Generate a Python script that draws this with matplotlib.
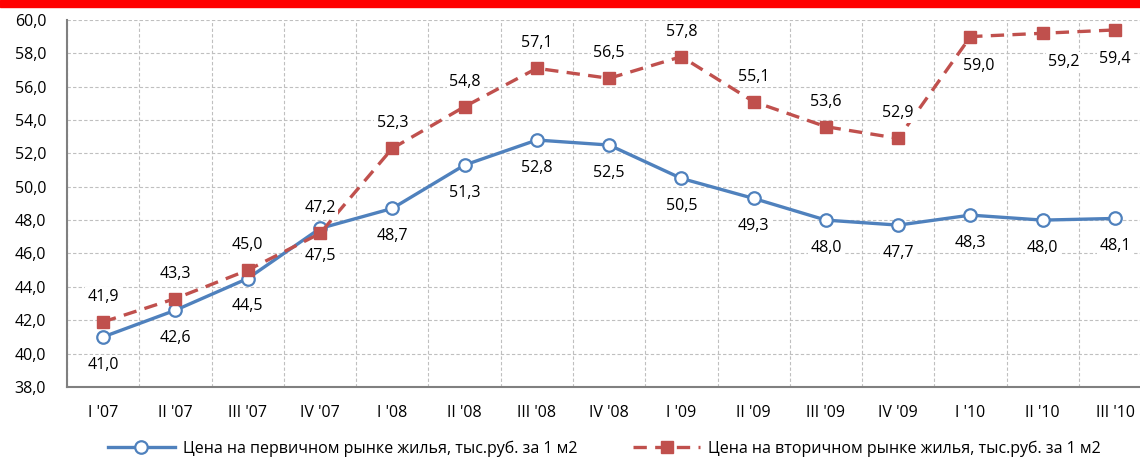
import numpy as np
import matplotlib
matplotlib.use("Agg")
import matplotlib.pyplot as plt
from matplotlib.patches import Rectangle
from matplotlib.ticker import FuncFormatter, MultipleLocator

plt.rcParams['font.family'] = ['Open Sans', 'DejaVu Sans']

quarters = ["I '07", "II '07", "III '07", "IV '07", "I '08", "II '08", "III '08", "IV '08",
            "I '09", "II '09", "III '09", "IV '09", "I '10", "II '10", "III '10"]
primary = [41.0, 42.6, 44.5, 47.5, 48.7, 51.3, 52.8, 52.5, 50.5, 49.3, 48.0, 47.7, 48.3, 48.0, 48.1]
secondary = [41.9, 43.3, 45.0, 47.2, 52.3, 54.8, 57.1, 56.5, 57.8, 55.1, 53.6, 52.9, 59.0, 59.2, 59.4]
primary_name = 'Цена на первичном рынке жилья, тыс.руб. за 1 м2'
secondary_name = 'Цена на вторичном рынке жилья, тыс.руб. за 1 м2'

blue = '#4F81BD'
red = '#C0504D'
fs = 11.5
fmt = lambda v: f'{v:.1f}'.replace('.', ',')

fig = plt.figure(figsize=(11.4, 4.59), dpi=100)
fig.patches.append(Rectangle((0, 0.985), 1, 0.015, transform=fig.transFigure,
                             color='#FF0000', zorder=0))
ax = fig.add_axes([0.0588, 0.157, 0.951, 0.7996])

x = np.arange(len(quarters))
ax.plot(x, primary, color=blue, lw=2.4, marker='o', ms=9, mfc='white',
        mec=blue, mew=1.6, label=primary_name, zorder=3)
ax.plot(x, secondary, color=red, lw=2.4, marker='s', ms=9, mfc=red, mec=red,
        dashes=(4, 2.5), label=secondary_name, zorder=4)

box = dict(facecolor='white', edgecolor='none', pad=1.5)
for xi, v in zip(x, primary):
    ax.annotate(fmt(v), (xi, v), xytext=(0, -20), textcoords='offset points',
                ha='center', va='center', fontsize=fs, bbox=box, zorder=5)

# the last three secondary labels sit under their points, nudged sideways
below_shift = {12: 6, 13: 15, 14: 0}
for xi, v in zip(x, secondary):
    if xi in below_shift:
        off = (below_shift[xi], -21)
    else:
        off = (0, 18)
    ax.annotate(fmt(v), (xi, v), xytext=off, textcoords='offset points',
                ha='center', va='center', fontsize=fs, bbox=box, zorder=5)

ax.set_xlim(-0.5, len(quarters) - 0.5)
ax.set_ylim(38, 60)
ax.yaxis.set_major_locator(MultipleLocator(2))
ax.yaxis.set_major_formatter(FuncFormatter(lambda v, _: fmt(v)))
ax.set_xticks(x)
ax.set_xticklabels(quarters)
ax.set_xticks(np.arange(-0.5, len(quarters), 1), minor=True)
ax.tick_params(axis='both', which='both', length=0, labelsize=fs)
ax.tick_params(axis='y', pad=15)
ax.tick_params(axis='x', pad=13)

ax.grid(axis='y', which='major', color='#BFBFBF', ls=(0, (3, 2)), lw=0.8)
ax.grid(axis='x', which='minor', color='#BFBFBF', ls=(0, (3, 2)), lw=0.8)
ax.set_axisbelow(True)
for side in ['top', 'right']:
    ax.spines[side].set_visible(False)
for side in ['left', 'bottom']:
    ax.spines[side].set_color('#808080')
    ax.spines[side].set_linewidth(1.5)

fig.legend(loc='center left', bbox_to_anchor=(0.082, 0.022), ncol=2, frameon=False,
           fontsize=fs, handlelength=4.2, columnspacing=3.5, handletextpad=0.5)

fig.savefig('out.png', dpi=100)
